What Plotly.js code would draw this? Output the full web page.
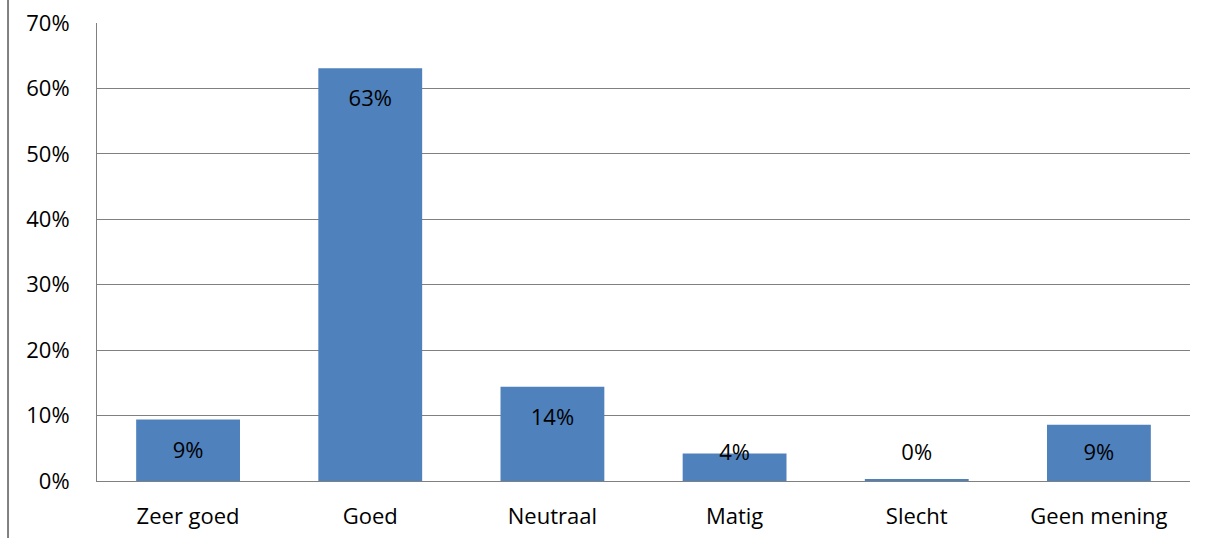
<!DOCTYPE html>
<html>
<head>
<meta charset="utf-8">
<script src="https://cdn.plot.ly/plotly-3.0.1.min.js"></script>
<style>html,body{margin:0;padding:0;background:#fff;}#chart{width:1214px;height:538px;}</style>
</head>
<body>
<div id="chart"></div>
<script>
const categories = ["Zeer goed", "Goed", "Neutraal", "Matig", "Slecht", "Geen mening"];
const values = [9.4, 63.1, 14.4, 4.2, 0.3, 8.6];
const valueLabels = ["9%", "63%", "14%", "4%", "0%", "9%"];
const tickValues = [0, 10, 20, 30, 40, 50, 60, 70];
const tickLabels = ["0%", "10%", "20%", "30%", "40%", "50%", "60%", "70%"];

const FONT = "Open Sans, Lato, Liberation Sans, sans-serif";
const GRID = "#808080";
const FS = 22;

// label placement: inside the top of the bar, with a minimum height above the axis
const labelY = values.map(v => Math.max(v - 5.0, 4.0));

const bars = {
  type: "bar",
  x: categories,
  y: values,
  marker: {color: "#4F81BD"},
  hoverinfo: "skip"
};
const labels = {
  type: "scatter",
  mode: "text",
  x: categories,
  y: labelY,
  text: valueLabels,
  textposition: "middle center",
  textfont: {family: FONT, size: FS, color: "#000"},
  hoverinfo: "skip"
};

const layout = {
  width: 1214,
  height: 538,
  margin: {l: 97, r: 24, t: 23, b: 57},
  paper_bgcolor: "#fff",
  plot_bgcolor: "#fff",
  showlegend: false,
  bargap: 0.43,
  font: {family: FONT, size: FS, color: "#000"},
  xaxis: {
    type: "category",
    showgrid: false,
    showline: true,
    linecolor: GRID,
    linewidth: 1,
    ticks: "",
    tickfont: {family: FONT, size: FS, color: "#000"},
    ticklabelstandoff: 16,
    fixedrange: true
  },
  yaxis: {
    range: [0, 70],
    tickvals: tickValues,
    ticktext: tickLabels,
    showgrid: true,
    gridcolor: GRID,
    gridwidth: 1,
    showline: true,
    linecolor: GRID,
    linewidth: 1,
    zeroline: false,
    ticks: "",
    tickfont: {family: FONT, size: FS, color: "#000"},
    ticklabelstandoff: 22,
    fixedrange: true
  },
  shapes: [
    {type: "line", xref: "paper", yref: "paper", x0: -0.0814, x1: -0.0814, y0: -0.2, y1: 1.1,
     line: {color: GRID, width: 2}}
  ]
};

Plotly.newPlot("chart", [bars, labels], layout, {displayModeBar: false, staticPlot: true});
</script>
</body>
</html>
